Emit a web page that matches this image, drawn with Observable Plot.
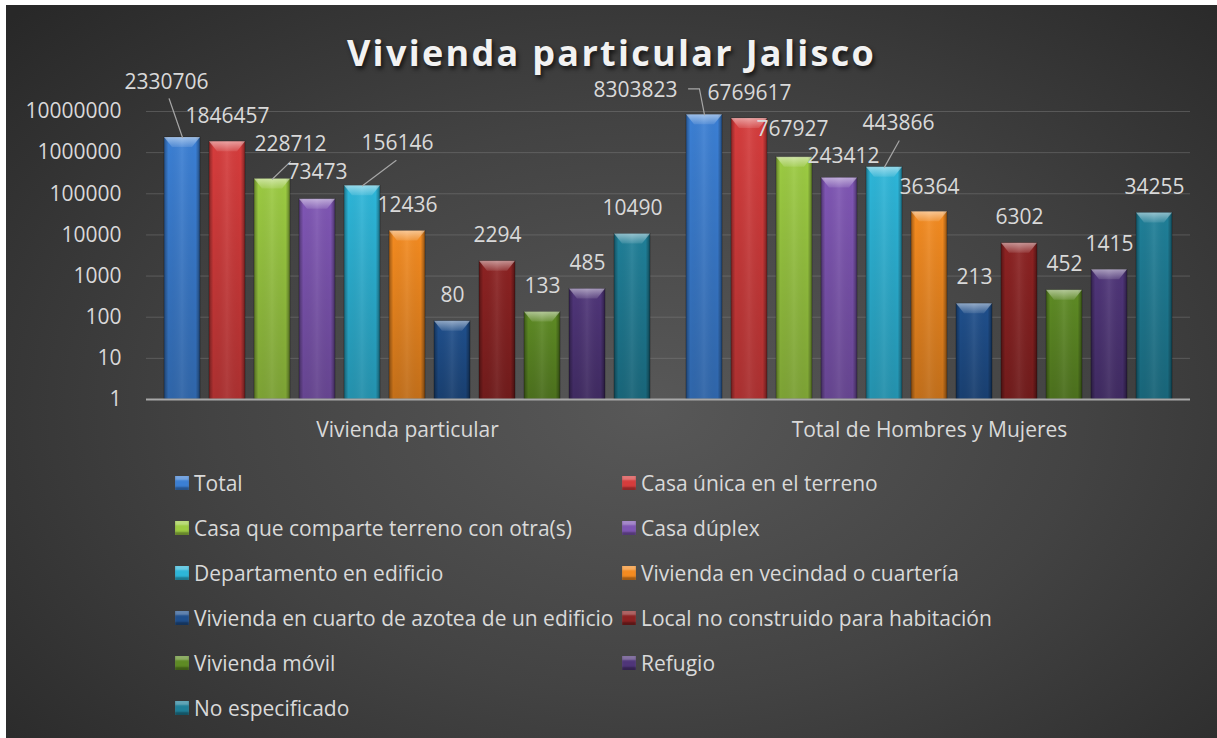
<!DOCTYPE html>
<html>
<head>
<meta charset="utf-8">
<script src="https://cdn.jsdelivr.net/npm/d3@7"></script>
<script src="https://cdn.jsdelivr.net/npm/@observablehq/plot@0.6"></script>
<style>
  html, body { margin: 0; padding: 0; background: #ffffff; }
  #chart {
    position: absolute; left: 6px; top: 5px; width: 1211px; height: 733px;
    background: radial-gradient(ellipse 72% 78% at 53% 55%, #585858 0%, #434343 50%, #282828 100%);
    overflow: hidden;
    font-family: "Open Sans", sans-serif;
  }
  #title {
    height: 59px; line-height: 70px; padding-top: 23px;
    text-align: center; color: #f2f2f2;
    font: bold 36px "Open Sans", sans-serif; letter-spacing: 2.3px;
    text-shadow: 2px 3px 4px rgba(0,0,0,0.65);
    overflow: visible; white-space: nowrap;
  }
  #legend {
    position: absolute; left: 169px; top: 455px;
    display: grid; grid-template-columns: 447px auto; grid-auto-rows: 45px;
    color: #d9d9d9; font-size: 21px; font-family: "Open Sans", sans-serif;
  }
  .item { display: flex; align-items: center; white-space: nowrap; }
  .sw {
    width: 14px; height: 14px; margin-right: 5px; box-sizing: border-box; flex: none;
    box-shadow: inset 0 -3px 2px rgba(0,0,0,0.35), inset 0 4px 2px rgba(255,255,255,0.3);
  }
</style>
</head>
<body>
<div id="chart">
  <div id="title">Vivienda particular Jalisco</div>
  <div id="plot"></div>
  <div id="legend"></div>
</div>
<script>
// ---- data ----
const groups = ["Vivienda particular", "Total de Hombres y Mujeres"];
const seriesNames = [
  "Total",
  "Casa única en el terreno",
  "Casa que comparte terreno con otra(s)",
  "Casa dúplex",
  "Departamento en edificio",
  "Vivienda en vecindad o cuartería",
  "Vivienda en cuarto de azotea de un edificio",
  "Local no construido para habitación",
  "Vivienda móvil",
  "Refugio",
  "No especificado"
];
const viviendaValues = [2330706, 1846457, 228712, 73473, 156146, 12436, 80, 2294, 133, 485, 10490];
const personasValues = [8303823, 6769617, 767927, 243412, 443866, 36364, 213, 6302, 452, 1415, 34255];
const yTicks = [1, 10, 100, 1000, 10000, 100000, 1000000, 10000000];
const seriesColors = ["#3b7fd4", "#d63c3c", "#9ccb42", "#7f56b4", "#2db6d9", "#f48b20",
                      "#1f4f8c", "#8c2222", "#5e8b24", "#4f3579", "#1f7f98"];

// ---- label placement (pixel offsets from bar top) ----
const labelDx = [[-16, 0, 18, 0, 35, 0, 0, 0, 0, 0, 0], [-69, 0, -2, 4, 14, 0, 0, 0, 0, 0, 0]];
const labelDy = [[-55, -25, -35, -27, -43, -26, -26, -26, -26, -26, -26],
                 [-25, -25, -28, -22, -44, -25, -26, -26, -26, -26, -26]];
// leader lines: group index, series index, length, rotate, dx, dy
const leaders = [
  [0, 0, 41, -19, 0, 0],
  [0, 2, 25, 46, 0, 0],
  [0, 4, 42, 53, 0, 0],
  [1, 0, 26, -11, 0, 0],
  [1, 0, 11, -90, -5, -26],
  [1, 4, 30, 29, 0, 0]
];

const valuesByGroup = [viviendaValues, personasValues];
const table = groups.flatMap((g, gi) => seriesNames.map((s, si) => ({
  group: g, series: s, value: valuesByGroup[gi][si], gi, si
})));

const textColor = "#d9d9d9";
const labelMarks = table.map(d => Plot.text([d], {
  fx: "group", x: "series", y: "value", text: dd => String(dd.value),
  fill: textColor, fontSize: 21, textAnchor: "middle", lineAnchor: "middle",
  dx: labelDx[d.gi][d.si], dy: labelDy[d.gi][d.si]
}));
const leaderMarks = leaders.map(([gi, si, len, rot, dx, dy]) => Plot.vector(
  table.filter(d => d.gi === gi && d.si === si), {
    fx: "group", x: "series", y: "value", length: len, rotate: rot, anchor: "start",
    r: 0, stroke: "#a6a6a6", strokeWidth: 1.2, dx, dy
  }));

const chart = Plot.plot({
  width: 1211, height: 368,
  marginTop: 24, marginLeft: 139, marginRight: 27, marginBottom: 56,
  style: { background: "transparent", overflow: "visible", fontFamily: "Open Sans", fontSize: "21px", color: textColor },
  fx: { domain: groups, padding: 0, label: null, axis: "bottom", tickSize: 0, tickPadding: 23, fontSize: 21 },
  x: { domain: seriesNames, padding: 0.2, paddingOuter: 0.376, axis: null },
  y: { type: "log", domain: [1, 1e7], label: null, axis: null },
  color: { domain: seriesNames, range: seriesColors },
  marks: [
    Plot.gridY(yTicks, { stroke: "#8a8a8a", strokeOpacity: 0.4, strokeWidth: 1 }),
    Plot.axisY({ ticks: yTicks, tickFormat: d => String(d), tickSize: 0, tickPadding: 25, fontSize: 21, label: null, fill: textColor }),
    Plot.barY(table, { fx: "group", x: "series", y1: d => 1, y2: "value", fill: "series" }),
    Plot.ruleY([1], { stroke: "#a8a8a8", strokeWidth: 2 }),
    ...leaderMarks,
    ...labelMarks
  ]
});

// bevel shading for bars
const ns = "http://www.w3.org/2000/svg";
const defs = document.createElementNS(ns, "defs");
defs.innerHTML = `
  <linearGradient id="barShade" x1="0" y1="0" x2="1" y2="0">
    <stop offset="0" stop-color="#000" stop-opacity="0.35"/>
    <stop offset="0.12" stop-color="#000" stop-opacity="0"/>
    <stop offset="0.5" stop-color="#fff" stop-opacity="0.08"/>
    <stop offset="0.88" stop-color="#000" stop-opacity="0"/>
    <stop offset="1" stop-color="#000" stop-opacity="0.4"/>
  </linearGradient>
  <linearGradient id="capShade" x1="0" y1="0" x2="0" y2="1">
    <stop offset="0" stop-color="#fff" stop-opacity="0.5"/>
    <stop offset="1" stop-color="#fff" stop-opacity="0.1"/>
  </linearGradient>
  <linearGradient id="baseShade" x1="0" y1="0" x2="0" y2="1">
    <stop offset="0" stop-color="#000" stop-opacity="0"/>
    <stop offset="1" stop-color="#000" stop-opacity="0.2"/>
  </linearGradient>`;
chart.insertBefore(defs, chart.firstChild);
chart.querySelectorAll('g[aria-label="bar"] rect').forEach(r => {
  const x = +r.getAttribute("x"), y = +r.getAttribute("y");
  const w = +r.getAttribute("width"), h = +r.getAttribute("height");
  r.setAttribute("stroke", "rgba(0,0,0,0.35)");
  r.setAttribute("stroke-width", "0.8");
  const o = document.createElementNS(ns, "rect");
  ["x", "y", "width", "height"].forEach(a => o.setAttribute(a, r.getAttribute(a)));
  o.setAttribute("fill", "url(#barShade)");
  r.parentNode.appendChild(o);
  const o2 = o.cloneNode();
  o2.setAttribute("fill", "url(#baseShade)");
  r.parentNode.appendChild(o2);
  const cap = document.createElementNS(ns, "polygon");
  const c = Math.min(10, h);
  cap.setAttribute("points", `${x},${y} ${x + w},${y} ${x + w - 8},${y + c} ${x + 8},${y + c}`);
  cap.setAttribute("fill", "url(#capShade)");
  r.parentNode.appendChild(cap);
});
document.getElementById("plot").appendChild(chart);

// legend
const legend = document.getElementById("legend");
seriesNames.forEach((s, i) => {
  const it = document.createElement("div");
  it.className = "item";
  const sw = document.createElement("span");
  sw.className = "sw";
  sw.style.background = seriesColors[i];
  it.appendChild(sw);
  it.appendChild(document.createTextNode(s));
  legend.appendChild(it);
});
</script>
</body>
</html>
